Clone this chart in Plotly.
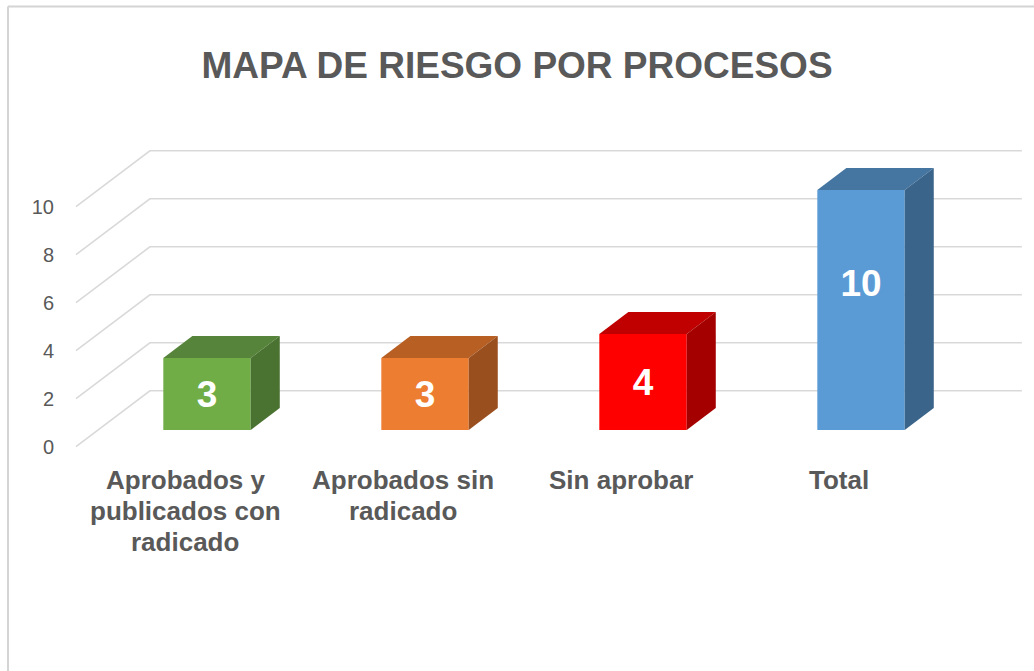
import plotly.graph_objects as go

# ---- data ----
categories = ["Aprobados y<br>publicados con<br>radicado", "Aprobados sin<br>radicado", "Sin aprobar", "Total"]
values = [3, 3, 4, 10]
y_ticks = [0, 2, 4, 6, 8, 10]
title_text = "MAPA DE RIESGO POR PROCESOS"

# ---- style ----
front_colors = ["#70AD47", "#ED7D31", "#FF0000", "#5B9BD5"]
top_colors = ["#56843A", "#B85F24", "#C00000", "#4575A1"]
side_colors = ["#4A7230", "#9A4F1E", "#A50000", "#3A6489"]
label_frac = [0.5, 0.5, 0.5, 0.61]
FONT = "Liberation Sans"
TXT = "#595959"
GRID = "#D9D9D9"

# 3D geometry (in axis units)
DEPTH_X, DEPTH_Y = 0.339, 2.33      # full depth of the chart
F_FRONT, F_BACK = 0.298, 0.691      # bar position inside depth
HALF_W = 0.2005                     # half width of bar front face
X_MIN, X_MAX = -0.5, 3.5

W, H = 1034, 671
L, R, T, B = 60, 4, 100, 211
px_per_x = 218.0
px_per_y = 24.0
x0_px, y0_px = 185.0, 446.7
x_range = [(L - x0_px) / px_per_x, (W - R - x0_px) / px_per_x]
y_range = [(y0_px - (H - B)) / px_per_y, (y0_px - T) / px_per_y]

pw, ph = W - L - R, H - T - B
def xp(px):
    return (px - L) / pw
def yp(py):
    return (H - B - py) / ph

fig = go.Figure()

# gridlines: side wall diagonal + back wall horizontal
for t in y_ticks:
    fig.add_trace(go.Scatter(
        x=[X_MIN, X_MIN + DEPTH_X, X_MAX + DEPTH_X],
        y=[t, t + DEPTH_Y, t + DEPTH_Y],
        mode="lines", line=dict(color=GRID, width=1.6),
        hoverinfo="skip", showlegend=False))

fx, fy = F_FRONT * DEPTH_X, F_FRONT * DEPTH_Y
dx, dy = (F_BACK - F_FRONT) * DEPTH_X, (F_BACK - F_FRONT) * DEPTH_Y

for i, v in enumerate(values):
    xl, xr = i + fx - HALF_W, i + fx + HALF_W
    yb, yt = fy, fy + v
    # front face
    fig.add_trace(go.Scatter(
        x=[xl, xr, xr, xl, xl], y=[yb, yb, yt, yt, yb],
        fill="toself", fillcolor=front_colors[i], mode="lines",
        line=dict(width=0, color=front_colors[i]),
        hoverinfo="skip", showlegend=False))
    # top face
    fig.add_trace(go.Scatter(
        x=[xl, xr, xr + dx, xl + dx, xl], y=[yt, yt, yt + dy, yt + dy, yt],
        fill="toself", fillcolor=top_colors[i], mode="lines",
        line=dict(width=0, color=top_colors[i]),
        hoverinfo="skip", showlegend=False))
    # side face
    fig.add_trace(go.Scatter(
        x=[xr, xr + dx, xr + dx, xr, xr], y=[yb, yb + dy, yt + dy, yt, yb],
        fill="toself", fillcolor=side_colors[i], mode="lines",
        line=dict(width=0, color=side_colors[i]),
        hoverinfo="skip", showlegend=False))

# data labels
fig.add_trace(go.Scatter(
    x=[i + fx for i in range(len(values))],
    y=[fy + v * f - 0.14 for v, f in zip(values, label_frac)],
    text=[str(v) for v in values], mode="text",
    textfont=dict(family=FONT, size=37, color="white", weight="bold"),
    textposition="middle center", hoverinfo="skip", showlegend=False))

# category labels (one annotation per line for Excel-like line spacing)
LINE_PX = 31
for i, c in enumerate(categories):
    for k, line in enumerate(c.split("<br>")):
        fig.add_annotation(
            x=i, y=yp(480 + k * LINE_PX), xref="x", yref="paper",
            text="<b>" + line + "</b>",
            showarrow=False, yanchor="middle", xanchor="center", align="center",
            font=dict(family=FONT, size=26, color=TXT))

# chart frame
fig.add_shape(type="line", xref="paper", yref="paper",
              x0=xp(8), x1=xp(W + 5), y0=yp(6.5), y1=yp(6.5),
              line=dict(color="#D4D4D4", width=2))
fig.add_shape(type="line", xref="paper", yref="paper",
              x0=xp(8), x1=xp(8), y0=yp(6.5), y1=yp(H + 5),
              line=dict(color="#D4D4D4", width=2))

fig.update_layout(
    width=W, height=H,
    margin=dict(l=L, r=R, t=T, b=B),
    paper_bgcolor="white", plot_bgcolor="white",
    title=dict(text="<b>" + title_text + "</b>", x=0.5, xanchor="center",
               xref="container", yref="container", y=1 - 65 / H, yanchor="middle",
               font=dict(family=FONT, size=37, color=TXT)),
    xaxis=dict(range=x_range, showgrid=False, zeroline=False, showticklabels=False,
               showline=False, fixedrange=True),
    yaxis=dict(range=y_range, showgrid=False, zeroline=False, showline=False,
               tickvals=y_ticks, ticktext=[str(t) for t in y_ticks],
               ticklabelstandoff=5,
               tickfont=dict(family=FONT, size=20, color=TXT), fixedrange=True),
    showlegend=False,
    hovermode=False,
)

fig.write_html("out.html", config={"displayModeBar": False},
               post_script="document.body.style.margin='0';document.body.style.padding='0';document.body.style.overflow='hidden';")
